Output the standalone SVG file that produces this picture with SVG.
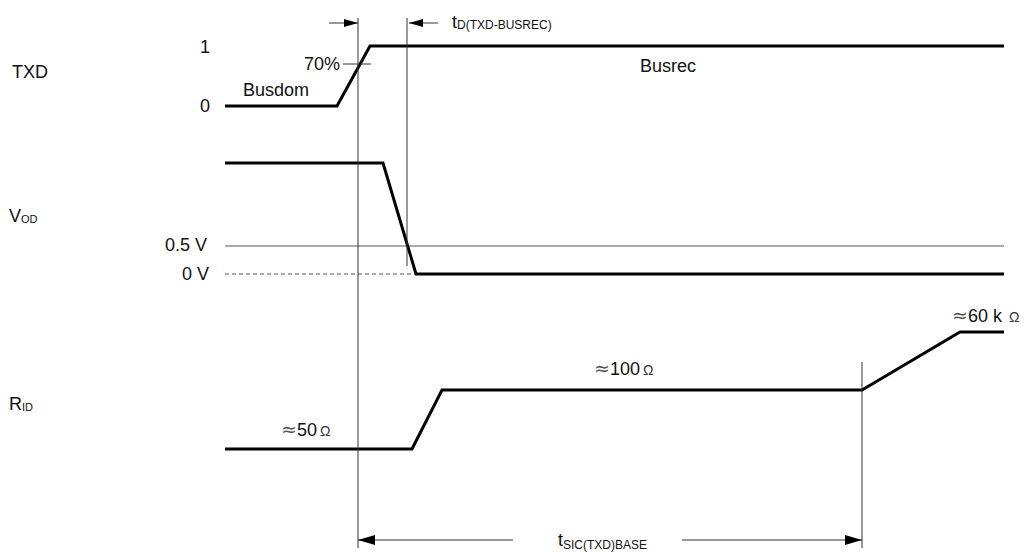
<svg xmlns="http://www.w3.org/2000/svg" width="1028" height="552" viewBox="0 0 1028 552">
<style>
text{font-family:"Liberation Sans",Arial,sans-serif;font-size:18px;fill:#111}
.sub{font-size:11px}
.tsub{font-size:12px}
.sym{font-family:"DejaVu Sans",sans-serif;font-size:19px;fill:#555}
.om{font-size:14px;fill:#333}
.sig{fill:none;stroke:#000;stroke-width:3;stroke-linejoin:miter}
.thin{fill:none;stroke:#333;stroke-width:1}
.grid{fill:none;stroke:#555;stroke-width:1}
</style>
<defs>
<marker id="ah" viewBox="0 0 14 8" refX="14" refY="4" markerWidth="14" markerHeight="8" markerUnits="userSpaceOnUse" orient="auto">
<path d="M0,0 L14,4 L0,8 Z" fill="#000"/>
</marker>
<marker id="ahb" viewBox="0 0 17 10" refX="17" refY="5" markerWidth="17" markerHeight="10" markerUnits="userSpaceOnUse" orient="auto">
<path d="M0,0 L17,5 L0,10 Z" fill="#000"/>
</marker>
</defs>
<rect width="1028" height="552" fill="#fff"/>
<g id="labels">
<text x="12" y="78">TXD</text>
<text x="9" y="222">V<tspan class="sub" dy="1">OD</tspan></text>
<text x="9" y="410">R<tspan class="sub" dy="1">ID</tspan></text>
<text x="200" y="53">1</text>
<text x="200" y="112">0</text>
<text x="165" y="251">0.5 V</text>
<text x="182" y="280">0 V</text>
</g>
<g id="txd">
<polyline class="sig" points="225,106 337,106 370,46 1004,46"/>
<line class="thin" x1="343" y1="64" x2="371" y2="64"/>
<text x="340" y="70" text-anchor="end">70%</text>
<text x="243" y="96">Busdom</text>
<text x="640" y="72">Busrec</text>
</g>
<g id="vod">
<line class="grid" x1="225" y1="246" x2="1004" y2="246"/>
<line class="grid" x1="225" y1="274" x2="415" y2="274" stroke-dasharray="4,3"/>
<polyline class="sig" points="225,163 383,163 416,274 1004,274"/>
</g>
<g id="rid">
<polyline class="sig" points="225,449 412,449 442,390 862,390 960,332 1004,332"/>
<text x="281" y="436"><tspan class="sym">≈</tspan>50<tspan class="om" dx="3">Ω</tspan></text>
<text x="594" y="375"><tspan class="sym">≈</tspan>100<tspan class="om" dx="3">Ω</tspan></text>
<text x="952" y="322"><tspan class="sym">≈</tspan>60 k<tspan class="om" dx="7">Ω</tspan></text>
</g>
<g id="connectors">
<line class="thin" x1="358" y1="18" x2="358" y2="548"/>
<line class="thin" x1="407" y1="18" x2="407" y2="266"/>
<line class="thin" x1="862" y1="362" x2="862" y2="548"/>
<line class="thin" x1="329" y1="23" x2="358" y2="23" marker-end="url(#ah)"/>
<line class="thin" x1="438" y1="23" x2="409" y2="23" marker-end="url(#ah)"/>
<line class="thin" x1="513" y1="540" x2="358" y2="540" marker-end="url(#ahb)"/>
<line class="thin" x1="682" y1="540" x2="862" y2="540" marker-end="url(#ahb)"/>
</g>
<g id="timing-labels">
<text x="452" y="28">t<tspan class="tsub" dy="1">D(TXD-BUSREC)</tspan></text>
<text x="558" y="546">t<tspan class="tsub" dy="3">SIC(TXD)BASE</tspan></text>
</g>
</svg>
